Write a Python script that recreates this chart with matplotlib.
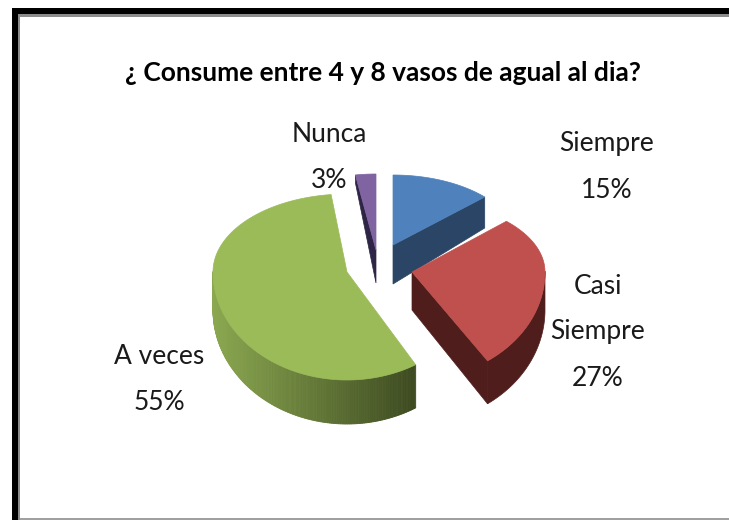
import matplotlib
matplotlib.use('Agg')
import matplotlib.pyplot as plt
import numpy as np

# Siempre, Casi Siempre, A veces, Nunca
labels = ['Siempre', 'Casi\nSiempre', 'A veces', 'Nunca']
values = [15, 27, 55, 3]
title = '¿ Consume entre 4 y 8 vasos de agual al dia?'

top_colors = ['#4f81bd', '#c0504d', '#9bbb59', '#8064a2']
wall_colors = ['#2a4565', '#4f1e1c', '#8aa84e', '#2e2445']

# exploded slice centres, in picture pixels
centres = [(393, 245), (412, 272), (347, 272), (376, 250)]
rx = [126, 133, 134, 130]
ry_back = [70, 72, 78, 76]
spin = [0, -1.5, 2.3, 0]
# cut wall depth (outer end, apex)
cut_depth = [(31, 39), (43, 38), None, (8, 33)]
label_pos = [(607, 167), (598, 332), (159, 380), (329, 157)]


def warp(i, t):
    # the pie is seen in perspective, so angles on screen are not the true ones
    return t - np.radians(9) * np.sin(t) + np.radians(spin[i])


def rim(i, t):
    s = warp(i, t)
    c = np.cos(s)
    ry = np.where(c > 0, ry_back[i], 108)
    return centres[i][0] + rx[i] * np.sin(s), centres[i][1] - ry * c


def depth(i, t):
    return 38 + 6 * np.clip(-np.cos(warp(i, t)), 0, 1)


fig = plt.figure(figsize=(7.29, 5.2), dpi=100)
ax = fig.add_axes([0, 0, 1, 1])
ax.set_xlim(0, 729)
ax.set_ylim(520, 0)
ax.axis('off')

# frame
ax.fill_between([12.5, 729], 8, 14, color='black', lw=0, zorder=1)
ax.fill_between([12.5, 18.5], 8, 520, color='black', lw=0, zorder=1)
ax.fill_between([18.5, 729], 14, 16.5, color='#8c8c8c', lw=0, zorder=1)
ax.fill_between([18.5, 20.5], 14, 520, color='#8c8c8c', lw=0, zorder=1)
ax.fill_between([20.5, 729], 517.5, 520, color='#a0a0a0', lw=0, zorder=1)

edges = np.radians(np.cumsum([0] + values) * 3.6)
order = [0, 3, 2, 1]
for n, i in enumerate(order):
    z = 2 + n * 3
    t = np.linspace(edges[i], edges[i + 1], 120)
    x, y = rim(i, t)
    cx, cy = centres[i]

    # outer wall, only where the rim faces the viewer
    front = np.cos(warp(i, t)) < 0.02
    tf = t[front]
    if len(tf) > 1:
        xf, yf = rim(i, tf)
        df = depth(i, tf)
        if i == 2:
            # green wall is shaded left to right
            tt = np.linspace(tf[0], tf[-1], 160)
            xs, ys = rim(i, tt)
            ds = depth(i, tt)
            light = np.array(matplotlib.colors.to_rgb('#8ba850'))
            dark = np.array(matplotlib.colors.to_rgb('#3d4a20'))
            for k in range(len(tt) - 1):
                f = (xs[k] - xs.min()) / (xs.max() - xs.min())
                col = light + (dark - light) * f
                ax.fill([xs[k], xs[k + 1], xs[k + 1], xs[k]],
                        [ys[k], ys[k + 1], ys[k + 1] + ds[k + 1], ys[k] + ds[k]],
                        color=col, lw=0.6, zorder=z)
        else:
            ax.fill(np.r_[xf, xf[::-1]], np.r_[yf, (yf + df)[::-1]],
                    color=wall_colors[i], lw=0.5, zorder=z)

    # cut wall
    if cut_depth[i] is not None:
        d_out, d_in = cut_depth[i]
        end = edges[i + 1] if i in (0, 1) else edges[i]
        ex, ey = rim(i, np.array(end))
        ax.fill([cx, ex, ex, cx], [cy, ey, ey + d_out, cy + d_in],
                color=wall_colors[i], lw=0.5, zorder=z)

    # top face
    ax.fill(np.r_[cx, x], np.r_[cy, y], color=top_colors[i], lw=0.5, zorder=z + 1)

    ax.text(label_pos[i][0], label_pos[i][1], f'{labels[i]}\n{values[i]}%',
            ha='center', va='center', family='Lato', fontsize=19,
            linespacing=2.05, color='#1a1a1a', zorder=30)

ax.text(383, 73, title, ha='center', va='center', family='Lato',
        fontweight='bold', fontsize=19, color='black', zorder=30)

fig.savefig('out.png', dpi=100)
